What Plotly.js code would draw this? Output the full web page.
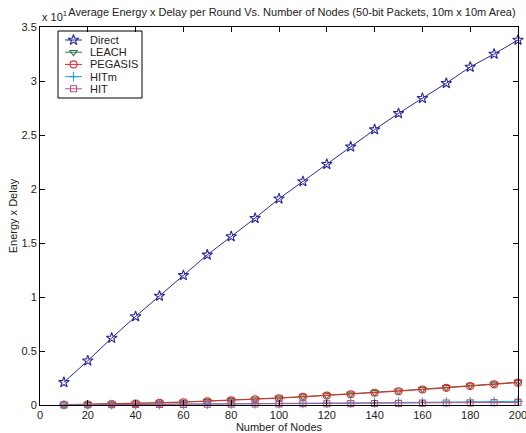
<!DOCTYPE html>
<html>
<head>
<meta charset="utf-8">
<script src="https://cdn.plot.ly/plotly-3.0.1.min.js"></script>
<style>html,body{margin:0;padding:0;background:#fff;}#chart{width:526px;height:433px;}</style>
</head>
<body>
<div id="chart"></div>
<script>
const nodes = [10,20,30,40,50,60,70,80,90,100,110,120,130,140,150,160,170,180,190,200];
const direct = [0.21,0.41,0.62,0.82,1.01,1.20,1.39,1.56,1.73,1.91,2.07,2.23,2.39,2.55,2.70,2.84,2.98,3.13,3.25,3.38];
const leach = [0.003,0.006,0.010,0.015,0.021,0.028,0.036,0.045,0.055,0.066,0.078,0.090,0.103,0.117,0.132,0.147,0.163,0.179,0.195,0.212];
const pegasis = [0.002,0.005,0.009,0.014,0.020,0.026,0.034,0.043,0.053,0.063,0.075,0.087,0.100,0.114,0.128,0.143,0.159,0.175,0.191,0.207];
const hitm = [0.001,0.002,0.003,0.004,0.006,0.007,0.009,0.010,0.012,0.014,0.015,0.017,0.019,0.021,0.023,0.025,0.027,0.029,0.031,0.034];
const hit = [0.001,0.002,0.003,0.004,0.005,0.006,0.007,0.008,0.009,0.010,0.011,0.012,0.013,0.014,0.015,0.017,0.018,0.020,0.022,0.024];
const names = ['Direct','LEACH','PEGASIS','HITm','HIT'];
const xTicks = [0,20,40,60,80,100,120,140,160,180,200];
const yTicks = [0,0.5,1,1.5,2,2.5,3,3.5];
const yTickText = ['0','0.5','1','1.5','2','2.5','3','3.5'];

const series = [direct, leach, pegasis, hitm, hit];
const colors = ['#2a2a9c','#3a7a4a','#e8282a','#22a8c0','#b8508a'];
const symbols = ['star-open','triangle-down-open','circle-open','cross-thin-open','square-open'];
const sizes = [8,7,7,7,6];
const FONT = 'Liberation Sans, Arial, sans-serif';

const traces = series.map((ys,i)=>({
  x: nodes, y: ys, name: names[i], type:'scatter', mode:'lines+markers',
  line:{color:colors[i], width:1},
  marker:{symbol:symbols[i], size:sizes[i], color:colors[i], line:{color:colors[i], width:1.1}},
  cliponaxis:false, showlegend:false
}));

// custom compact legend drawn in a pixel-space overlay axis pair
const L = 40, R = 518, T = 27, B = 405;
const legLeft = 58, legRight = 142, legTop = 31, legBottom = 98;
const rowY0 = 40, rowStep = 12.2;
const sampleX0 = 65, sampleX1 = 82, textX = 88;
const shapes = [{type:'rect', xref:'x2', yref:'y2', x0:legLeft, x1:legRight, y0:legTop, y1:legBottom,
  line:{color:'#000', width:1}, fillcolor:'#fff', layer:'below'}];
const annotations = [{text:'x 10<sup>1</sup>', xref:'paper', yref:'paper', x:0, y:1, xanchor:'left', yanchor:'bottom',
    showarrow:false, font:{size:11, color:'#222'}, yshift:2}];
names.forEach((n,i)=>{
  const yy = rowY0 + i*rowStep;
  shapes.push({type:'line', xref:'x2', yref:'y2', x0:sampleX0, x1:sampleX1, y0:yy, y1:yy,
    line:{color:colors[i], width:1}, layer:'above'});
  annotations.push({text:n, xref:'x2', yref:'y2', x:textX, y:yy, xanchor:'left', yanchor:'middle',
    showarrow:false, font:{size:11, color:'#222'}});
  traces.push({x:[(sampleX0+sampleX1)/2], y:[yy], xaxis:'x2', yaxis:'y2', type:'scatter', mode:'markers',
    marker:{symbol:symbols[i], size:sizes[i], color:colors[i], line:{color:colors[i], width:1.1}},
    showlegend:false, hoverinfo:'skip', cliponaxis:false});
});

const axisCommon = {
  showgrid:false, zeroline:false, showline:true, linecolor:'#000', linewidth:1,
  mirror:'ticks', ticks:'inside', ticklen:5, tickcolor:'#000', ticklabeloverflow:'allow',
  tickfont:{family:FONT, size:11, color:'#222'}
};

const layout = {
  width:526, height:433,
  margin:{l:L, r:526-R, t:T, b:433-B},
  paper_bgcolor:'#fff', plot_bgcolor:'#fff',
  font:{family:FONT, color:'#222'},
  title:{text:'Average Energy x Delay per Round Vs. Number of Nodes (50-bit Packets, 10m x 10m Area)',
    font:{size:11, color:'#222'}, x:0.555, xanchor:'center', y:0.972, yanchor:'middle'},
  xaxis:Object.assign({}, axisCommon, {range:[0,200], tickvals:xTicks,
    title:{text:'Number of Nodes', font:{size:11}, standoff:2}}),
  yaxis:Object.assign({}, axisCommon, {range:[0,3.5], tickvals:yTicks, ticktext:yTickText,
    title:{text:'Energy x Delay', font:{size:11}, standoff:1}}),
  xaxis2:{overlaying:'x', anchor:'y2', range:[L,R], visible:false, fixedrange:true},
  yaxis2:{overlaying:'y', anchor:'x2', range:[B,T], visible:false, fixedrange:true},
  showlegend:false,
  shapes:shapes,
  annotations:annotations
};

Plotly.newPlot('chart', traces, layout, {displayModeBar:false, staticPlot:true});
</script>
</body>
</html>
